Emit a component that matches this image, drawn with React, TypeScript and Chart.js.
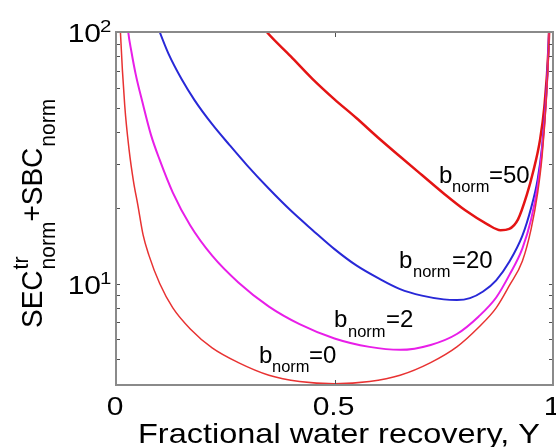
import { useEffect, useRef } from 'react';
import { Chart, registerables } from 'chart.js';

Chart.register(...registerables);

// ---- data ----
const recoveryB0 = [0.008, 0.01, 0.02, 0.03, 0.04, 0.05, 0.062, 0.075, 0.1, 0.13, 0.17, 0.22, 0.28, 0.35, 0.42, 0.5, 0.58, 0.65, 0.72, 0.78, 0.83, 0.87, 0.9, 0.93, 0.95, 0.965, 0.975, 0.985, 0.99, 0.995];
const costB0 = [126, 101, 51, 34, 25.5, 20.5, 15.6, 13.0, 10.0, 8.0, 6.6, 5.55, 4.85, 4.32, 4.08, 4.0, 4.08, 4.32, 4.85, 5.6, 6.7, 8.0, 9.8, 12.3, 16.5, 23, 32, 55, 85, 170];

const recoveryB2 = [0.022, 0.025, 0.028, 0.035, 0.045, 0.06, 0.08, 0.1, 0.13, 0.17, 0.22, 0.28, 0.35, 0.42, 0.5, 0.58, 0.65, 0.72, 0.78, 0.83, 0.87, 0.9, 0.93, 0.95, 0.965, 0.975, 0.985, 0.99, 0.995];
const costB2 = [135, 115, 100, 84, 68, 53, 39, 31, 23, 17.0, 12.9, 10.1, 8.1, 6.9, 6.05, 5.6, 5.45, 5.7, 6.3, 7.4, 8.8, 10.8, 13.8, 18.0, 24.5, 34, 57, 88, 170];

const recoveryB20 = [0.085, 0.1, 0.12, 0.15, 0.18, 0.22, 0.26, 0.3, 0.35, 0.4, 0.45, 0.5, 0.55, 0.6, 0.65, 0.7, 0.75, 0.78, 0.81, 0.84, 0.87, 0.9, 0.93, 0.95, 0.965, 0.975, 0.985, 0.99, 0.995];
const costB20 = [118, 100, 82, 65, 53.5, 43, 35.5, 29.5, 23.8, 19.5, 16.3, 13.7, 11.8, 10.5, 9.5, 8.95, 8.65, 8.6, 8.75, 9.3, 10.3, 12.2, 15.5, 20, 26, 35, 58, 90, 170];

const recoveryB50 = [0.33, 0.345, 0.4, 0.45, 0.5, 0.55, 0.6, 0.65, 0.7, 0.75, 0.8, 0.85, 0.88, 0.9, 0.92, 0.94, 0.955, 0.97, 0.98, 0.99, 0.995];
const costB50 = [108, 100, 80, 65, 54, 45.5, 38, 32, 27, 22.8, 19.5, 17.2, 16.3, 16.5, 18, 22.5, 28, 37, 50, 88, 160];

const seriesNames = ['0', '2', '20', '50'];

const xTickValues = [0, 0.5, 1];
const xTickLabels = ['0', '0.5', '1'];
const yMajorTicks = [10, 100];
const yMajorExponents = ['1', '2'];
const yMinorTicks = [4, 5, 6, 7, 8, 9, 20, 30, 40, 50, 60, 70, 80, 90];

const FONT = '"Liberation Sans", Arial, Helvetica, sans-serif';

const toPoints = (xs: number[], ys: number[]) => xs.map((x, i) => ({ x, y: ys[i] }));

function stretchedText(ctx: CanvasRenderingContext2D, text: string, x: number, y: number, size: number, sx: number, align: CanvasTextAlign) {
  ctx.save();
  ctx.translate(x, y);
  ctx.scale(sx, 1);
  ctx.font = `${size}px ${FONT}`;
  ctx.textAlign = align;
  ctx.textBaseline = 'alphabetic';
  ctx.fillText(text, 0, 0);
  ctx.restore();
}

const framePlugin = {
  id: 'frameAndText',
  afterDraw(chart: any) {
    const { ctx, chartArea: a, scales } = chart;
    const xs = scales.x;
    const ys = scales.y;
    ctx.save();

    // inward ticks
    ctx.strokeStyle = '#505050';
    ctx.lineWidth = 1;
    ctx.beginPath();
    [...yMinorTicks, ...yMajorTicks].forEach((v) => {
      const py = Math.round(ys.getPixelForValue(v)) + 0.5;
      ctx.moveTo(a.left, py);
      ctx.lineTo(a.left + 4, py);
      ctx.moveTo(a.right, py);
      ctx.lineTo(a.right - 4, py);
    });
    xTickValues.forEach((v) => {
      const px = Math.round(xs.getPixelForValue(v)) + 0.5;
      ctx.moveTo(px, a.bottom);
      ctx.lineTo(px, a.bottom - 5);
      ctx.moveTo(px, a.top);
      ctx.lineTo(px, a.top + 5);
    });
    ctx.stroke();

    // frame
    ctx.strokeStyle = '#8a8a8a';
    ctx.lineWidth = 2;
    ctx.strokeRect(a.left, a.top, a.right - a.left, a.bottom - a.top);

    ctx.fillStyle = '#000';

    // x tick labels
    xTickLabels.forEach((lab, i) => {
      const px = xs.getPixelForValue(xTickValues[i]);
      stretchedText(ctx, lab, px - 1, a.bottom + 30, 25, 1.2, 'center');
    });

    // y tick labels 10^n
    yMajorTicks.forEach((v, i) => {
      const py = ys.getPixelForValue(v);
      stretchedText(ctx, '10', a.left - 15, py + 10, 25, 1.2, 'right');
      stretchedText(ctx, yMajorExponents[i], a.left - 16, py, 17, 1.2, 'left');
    });

    // x axis title
    stretchedText(ctx, 'Fractional water recovery, Y', a.left + 22, 443, 28, 1.16, 'left');

    // y axis title (rotated)
    ctx.save();
    ctx.translate(42, 328);
    ctx.scale(1.08, 1);
    ctx.rotate(-Math.PI / 2);
    ctx.textAlign = 'left';
    ctx.textBaseline = 'alphabetic';
    let u = 0;
    ctx.font = `28px ${FONT}`;
    ctx.fillText('SEC', u, 0);
    u += ctx.measureText('SEC').width;
    ctx.font = `21px ${FONT}`;
    ctx.fillText('tr', u + 1, -13);
    ctx.fillText('norm', u + 1, 12);
    u += ctx.measureText('norm').width + 1;
    ctx.font = `28px ${FONT}`;
    ctx.fillText('+SBC', u, 0);
    u += ctx.measureText('+SBC').width;
    ctx.font = `21px ${FONT}`;
    ctx.fillText('norm', u + 1, 12);
    ctx.restore();

    // curve labels
    const labelPos = [
      [259, 363, 272, 372, 309],
      [334, 327, 348, 337, 386],
      [399, 268, 413, 277, 452],
      [439, 183, 452, 192, 489],
    ];
    labelPos.forEach((p, i) => {
      stretchedText(ctx, 'b', p[0], p[1], 24, 1, 'left');
      stretchedText(ctx, 'norm', p[2], p[3], 16.5, 1, 'left');
      stretchedText(ctx, '=' + seriesNames[i], p[4], p[1], 24, 1, 'left');
    });

    ctx.restore();
  },
};

export default function App() {
  const ref = useRef<HTMLCanvasElement | null>(null);
  useEffect(() => {
    document.body.style.margin = '0';
    const canvas = ref.current;
    if (!canvas) return;
    const common = { pointRadius: 0, fill: false, cubicInterpolationMode: 'monotone' as const };
    const chart = new Chart(canvas, {
      type: 'line',
      data: {
        datasets: [
          { label: 'b_norm=0', data: toPoints(recoveryB0, costB0), borderColor: 'rgb(232,50,50)', borderWidth: 1.5, ...common },
          { label: 'b_norm=2', data: toPoints(recoveryB2, costB2), borderColor: 'rgb(232,30,232)', borderWidth: 2, ...common },
          { label: 'b_norm=20', data: toPoints(recoveryB20, costB20), borderColor: 'rgb(40,40,215)', borderWidth: 2, ...common },
          { label: 'b_norm=50', data: toPoints(recoveryB50, costB50), borderColor: 'rgb(228,20,20)', borderWidth: 2.5, ...common },
        ],
      },
      options: {
        animation: false,
        responsive: false,
        devicePixelRatio: 1,
        layout: { padding: { left: 116, top: 32, right: 3, bottom: 62 } },
        plugins: { legend: { display: false }, tooltip: { enabled: false } },
        scales: {
          x: { type: 'linear', min: 0, max: 1, display: false },
          y: { type: 'logarithmic', min: 3.95, max: 100, display: false },
        },
      },
      plugins: [framePlugin],
    });
    return () => chart.destroy();
  }, []);
  return (
    <div style={{ width: 556, height: 447 }}>
      <canvas ref={ref} width={556} height={447} style={{ display: 'block' }} />
    </div>
  );
}
